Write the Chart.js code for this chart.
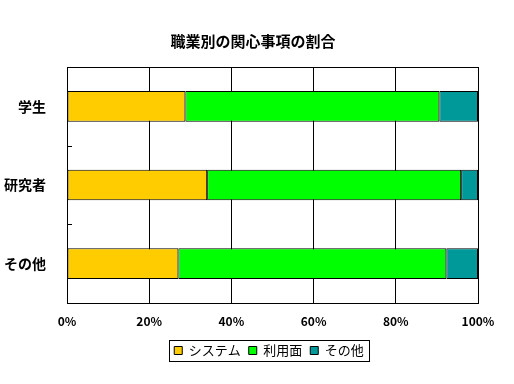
<!DOCTYPE html>
<html>
<head>
<meta charset="utf-8">
<script src="https://cdn.jsdelivr.net/npm/chart.js@4"></script>
<style>
  body { margin: 0; background: #fff; }
  #wrap { width: 514px; height: 384px; }
</style>
</head>
<body>
<div id="wrap"><canvas id="chart" width="514" height="384"></canvas></div>
<script>
const categories = ['学生', '研究者', 'その他'];
const seriesNames = ['システム', '利用面', 'その他'];
const systemValues = [28.8, 34.1, 27.1];
const usageValues = [61.8, 61.8, 65.2];
const otherValues = [9.4, 4.1, 7.7];
const xTicks = [0, 20, 40, 60, 80, 100];

const FONT = "'Noto Sans CJK JP', 'Noto Sans', sans-serif";

// title and legend sit a bit right of the plot centre in the original
const shiftPlugin = {
  id: 'shift',
  afterLayout(chart) {
    chart.titleBlock.left += 14; chart.titleBlock.right += 14;
    chart.legend.left += 30; chart.legend.right += 30;
  }
};

// plot frame, small category ticks, legend border
const framePlugin = {
  id: 'frame',
  afterDraw(chart) {
    const ctx = chart.ctx;
    const a = chart.chartArea;
    const y = chart.scales.y;
    ctx.save();
    ctx.strokeStyle = '#000';
    ctx.lineWidth = 1;
    ctx.strokeRect(Math.round(a.left) + 0.5, Math.round(a.top) + 0.5,
      Math.round(a.right - a.left), Math.round(a.bottom - a.top));
    ctx.beginPath();
    for (let i = 1; i < categories.length; i++) {
      const py = Math.round((y.getPixelForTick(i - 1) + y.getPixelForTick(i)) / 2) + 0.5;
      ctx.moveTo(Math.round(a.left), py);
      ctx.lineTo(Math.round(a.left) + 5, py);
    }
    ctx.stroke();
    const boxes = chart.legend.legendHitBoxes;
    if (boxes && boxes.length) {
      const first = boxes[0], last = boxes[boxes.length - 1];
      const l = Math.round(first.left) - 5, r = Math.round(last.left + last.width) + 5;
      const t = Math.round(first.top) - 4, b = Math.round(first.top + first.height) + 4;
      ctx.strokeRect(l + 0.5, t + 0.5, r - l, b - t);
    }
    ctx.restore();
  }
};

new Chart(document.getElementById('chart'), {
  type: 'bar',
  data: {
    labels: categories,
    datasets: [
      { label: seriesNames[0], data: systemValues, backgroundColor: '#FFCC00' },
      { label: seriesNames[1], data: usageValues, backgroundColor: '#00FF00' },
      { label: seriesNames[2], data: otherValues, backgroundColor: '#009999' }
    ].map(d => Object.assign(d, {
      borderColor: '#000', borderWidth: 1, borderSkipped: false,
      categoryPercentage: 0.39, barPercentage: 1
    }))
  },
  options: {
    indexAxis: 'y',
    responsive: false,
    animation: false,
    layout: { padding: { left: 0, right: 36, top: 0, bottom: 17 } },
    scales: {
      x: {
        stacked: true,
        min: 0, max: 100,
        afterBuildTicks(scale) { scale.ticks = xTicks.map(v => ({ value: v })); },
        afterFit(scale) { scale.height = 33; },
        ticks: {
          color: '#000',
          padding: 11,
          font: { family: FONT, size: 12, weight: 'bold' },
          callback: v => v + '%'
        },
        grid: { color: '#000', drawTicks: false },
        border: { color: '#000' }
      },
      y: {
        stacked: true,
        afterFit(scale) { scale.width = 67; },
        ticks: {
          color: '#000',
          padding: 13,
          font: { family: FONT, size: 14, weight: 'bold' }
        },
        grid: { display: false },
        border: { color: '#000' }
      }
    },
    plugins: {
      title: {
        display: true,
        text: '職業別の関心事項の割合',
        color: '#000',
        font: { family: FONT, size: 15, weight: 'bold' },
        padding: { top: 32, bottom: 17 }
      },
      legend: {
        position: 'bottom',
        labels: {
          color: '#000',
          boxWidth: 8,
          boxHeight: 8,
          padding: 8,
          font: { family: FONT, size: 13 }
        }
      },
      tooltip: { enabled: false }
    }
  },
  plugins: [shiftPlugin, framePlugin]
});
</script>
</body>
</html>
